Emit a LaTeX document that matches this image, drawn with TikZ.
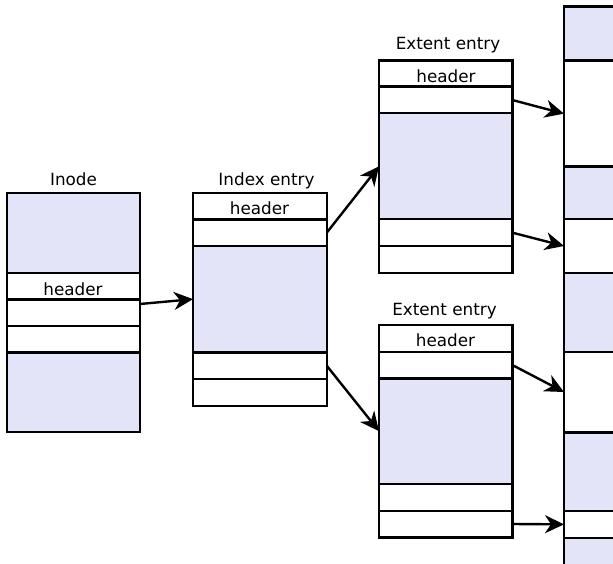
\documentclass[tikz,border=0pt]{standalone}
\usepackage{fontspec}
\setmainfont{DejaVu Sans}
\usetikzlibrary{arrows.meta,calc}
\definecolor{blockfill}{RGB}{227,228,248}
% one row of a record: name, left x, top y, bottom y, width, fill
\newcommand\cellrow[6]{%
  \node[cell,fill=#6,minimum width=#5pt,minimum height={#4pt-#3pt},anchor=north west] (#1) at (#2,#3) {};}
\begin{document}
\begin{tikzpicture}[x=1pt,y=-1pt,
  cell/.style={draw=black,line width=2.4pt,rectangle,inner sep=0pt,outer sep=0pt},
  lbl/.style={font=\fontsize{16.8}{20}\selectfont,inner sep=0pt,anchor=base},
  conn/.style={line width=2.4pt,-{Stealth[length=19pt,width=18pt,inset=6pt]}}]
\clip (0,0) rectangle (613,564);
\fill[white] (0,0) rectangle (613,564);

% Inode
\cellrow{ino1}{7}{193.3}{272.7}{133}{blockfill}
\cellrow{ino2}{7}{272.7}{299.3}{133}{white}
\cellrow{ino3}{7}{299.3}{325.7}{133}{white}
\cellrow{ino4}{7}{325.7}{352.3}{133}{white}
\cellrow{ino5}{7}{352.3}{431.7}{133}{blockfill}
\node[lbl] (inolbl) at (73.5,185.5) {Inode};
\node[lbl] (inohdr) at (73,295) {header};

% Index entry
\cellrow{idx1}{193}{193.3}{219.5}{133.7}{white}
\cellrow{idx2}{193}{219.5}{246}{133.7}{white}
\cellrow{idx3}{193}{246}{352.3}{133.7}{blockfill}
\cellrow{idx4}{193}{352.3}{379}{133.7}{white}
\cellrow{idx5}{193}{379}{405.7}{133.7}{white}
\node[lbl] (idxlbl) at (266.5,185.5) {Index entry};
\node[lbl] (idxhdr) at (259.5,214.5) {header};

% Upper extent entry
\cellrow{exa1}{379}{60.7}{86.7}{133.3}{white}
\cellrow{exa2}{379}{86.7}{113.3}{133.3}{white}
\cellrow{exa3}{379}{113.3}{219.3}{133.3}{blockfill}
\cellrow{exa4}{379}{219.3}{246}{133.3}{white}
\cellrow{exa5}{379}{246}{272.7}{133.3}{white}
\node[lbl] (exalbl) at (448,50) {Extent entry};
\node[lbl] (exahdr) at (446,82.3) {header};

% Lower extent entry
\cellrow{exb1}{379}{325}{351.7}{133.3}{white}
\cellrow{exb2}{379}{351.7}{378.3}{133.3}{white}
\cellrow{exb3}{379}{378.3}{484}{133.3}{blockfill}
\cellrow{exb4}{379}{484}{510.7}{133.3}{white}
\cellrow{exb5}{379}{510.7}{537.3}{133.3}{white}
\node[lbl] (exblbl) at (444.5,315.5) {Extent entry};
\node[lbl] (exbhdr) at (445.5,346.7) {header};

% Data blocks on disk
\cellrow{dk1}{564}{6.7}{60.7}{90}{blockfill}
\cellrow{dk2}{564}{60.7}{166.7}{90}{white}
\cellrow{dk3}{564}{166.7}{219.3}{90}{blockfill}
\cellrow{dk4}{564}{219.3}{272.7}{90}{white}
\cellrow{dk5}{564}{272.7}{351.7}{90}{blockfill}
\cellrow{dk6}{564}{351.7}{432.3}{90}{white}
\cellrow{dk7}{564}{432.3}{511}{90}{blockfill}
\cellrow{dk8}{564}{511}{537.7}{90}{white}
\cellrow{dk9}{564}{537.7}{600}{90}{blockfill}

% Pointers
\draw[conn] ($(ino3.north east)+(0,4.7)$) -- (idx3.west);
\draw[conn] (idx2.east) -- (exa3.west);
\draw[conn] (idx4.east) -- (exb3.west);
\draw[conn] (exa2.east) -- (dk2.west);
\draw[conn] (exa4.east) -- (dk4.west);
\draw[conn] (exb2.east) -- (dk6.west);
\draw[conn] (exb5.east) -- (dk8.west);
\end{tikzpicture}
\end{document}
